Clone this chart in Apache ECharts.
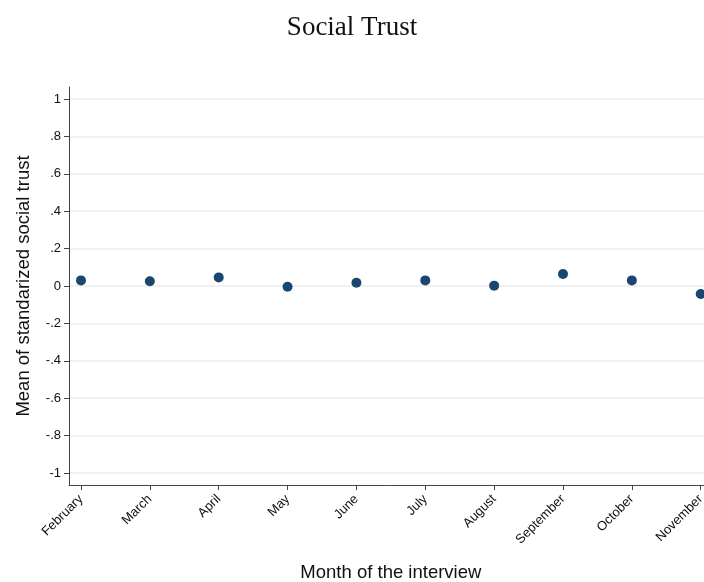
<html>
<head>
	<meta charset="UTF-8">
	<script src="https://cdn.jsdelivr.net/npm/echarts@6/dist/echarts.min.js"></script>
	<title>Social Trust</title>
</head>
<body style="margin:0">
<div id="pic" style="width:704px;height:582px"></div>
<script>
	"use strict";

	// months of the interview and the mean of standardized social trust
	const months=["February","March","April","May","June","July","August","September","October","November"];
	const trust=[0.030,0.025,0.046,-0.004,0.017,0.030,0.002,0.064,0.030,-0.043];
	const yTicks=[-1,-0.8,-0.6,-0.4,-0.2,0,0.2,0.4,0.6,0.8,1];
	const yLabels=["-1","-.8","-.6","-.4","-.2","0",".2",".4",".6",".8","1"];

	let xTicks=months.map((m,i)=>i);
	let pts=trust.map((v,i)=>[i,v]);

	let pic=echarts.init(document.getElementById("pic"));
	let option=
		{
			backgroundColor:"#ffffff",
			title:{
				text:"Social Trust",left:"center",top:9,
				textStyle:{fontFamily:"Liberation Serif",fontSize:27,fontWeight:"normal",color:"#111"}
			},
			grid:{left:69,right:-8.7,top:87,bottom:97,outerBoundsMode:"none",containLabel:false},
			xAxis:{
				type:"value",min:-0.174,max:9.174,
				name:"Month of the interview",nameLocation:"middle",nameGap:78,
				nameTextStyle:{fontFamily:"Liberation Sans",fontSize:18.5,color:"#111"},
				axisLine:{onZero:false,lineStyle:{color:"#444",width:1}},
				axisTick:{customValues:xTicks,length:5,lineStyle:{color:"#444"}},
				axisLabel:{
					customValues:xTicks,rotate:45,margin:12,
					fontFamily:"Liberation Sans",fontSize:13,color:"#111",
					formatter:v=>months[Math.round(v)]
				},
				splitLine:{show:false}
			},
			yAxis:{
				type:"value",min:-1.064,max:1.064,
				name:"Mean of standarized social trust",nameLocation:"middle",nameGap:36,
				nameTextStyle:{fontFamily:"Liberation Sans",fontSize:18.5,color:"#111"},
				axisLine:{show:true,onZero:false,lineStyle:{color:"#444",width:1}},
				axisTick:{show:true,customValues:yTicks,length:5,lineStyle:{color:"#444"}},
				axisLabel:{
					customValues:yTicks,margin:8,
					fontFamily:"Liberation Sans",fontSize:13,color:"#111",
					formatter:v=>yLabels[yTicks.findIndex(t=>Math.abs(t-v)<1e-9)]
				},
				splitLine:{show:true,customValues:yTicks,lineStyle:{color:"#ececec",width:1.5}}
			},
			series:[{
				type:"scatter",
				data:pts,
				symbolSize:10,
				itemStyle:{color:"#1a476f",opacity:1}
			}],
			animation:false
		};
	pic.setOption(option);
</script>
</body>
</html>
